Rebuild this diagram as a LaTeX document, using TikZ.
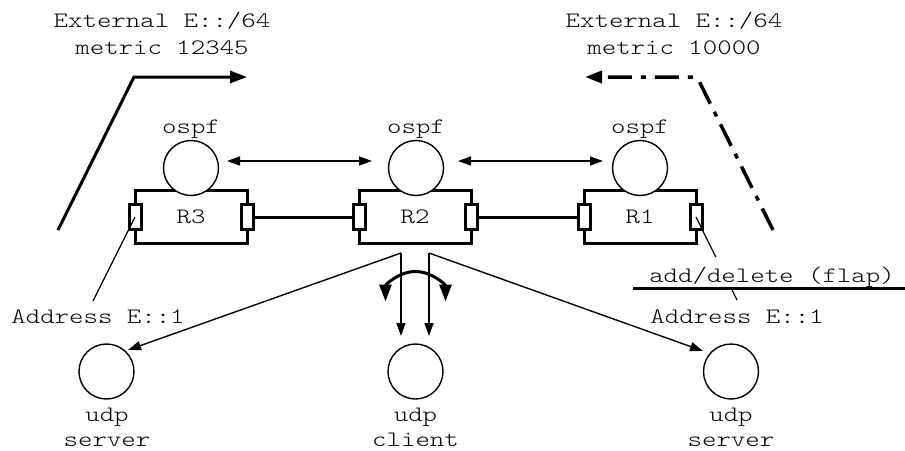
\documentclass[tikz,border=0pt]{standalone}
\usepackage{fontspec}
\newfontfamily\labelfont[FakeStretch=1.25]{Latin Modern Mono Light}
\usetikzlibrary{arrows.meta,calc}

\begin{document}
\begin{tikzpicture}[x=1pt,y=-1pt,
  txt/.style={font=\labelfont\fontsize{22}{27}\selectfont, inner sep=0pt, align=center},
  router/.style={draw, line width=3pt, minimum width=112pt, minimum height=53pt,
                 inner sep=0pt, outer sep=0pt, font=\labelfont\fontsize{22}{27}\selectfont},
  port/.style={draw, fill=white, line width=3pt, minimum width=12pt,
               minimum height=25pt, inner sep=0pt},
  proc/.style={draw, circle, fill=white, line width=1.4pt, minimum size=55pt, inner sep=0pt},
  link/.style={line width=3pt},
  leader/.style={line width=1.2pt},
  msg/.style={line width=1.4pt, -{Triangle[length=13pt,width=9pt]}},
  twoway/.style={line width=1.4pt, {Triangle[length=13pt,width=9pt]}-{Triangle[length=13pt,width=9pt]}},
  bigarrow/.style={line width=3pt, -{Triangle[length=17pt,width=12pt]}},
  bigtwo/.style={line width=3pt, {Triangle[length=17pt,width=12pt]}-{Triangle[length=17pt,width=12pt]}},
  withdraw/.style={line width=3.5pt, rounded corners=4pt, dash pattern=on 24pt off 9pt on 5pt off 9pt,
                   -{Triangle[length=17pt,width=12pt]}}
]
\useasboundingbox (0,0) rectangle (905,450);

% routers
\node[router] (R3) at (191,217) {R3};
\node[router] (R2) at (415,217) {R2};
\node[router] (R1) at (640,217) {R1};

% ospf processes sitting on the routers
\node[proc] (O3) at (191,168) {};
\node[proc] (O2) at (416,168) {};
\node[proc] (O1) at (640,168) {};
\node[txt, anchor=base] (O3l) at (191,133) {ospf};
\node[txt, anchor=base] (O2l) at (416,133) {ospf};
\node[txt, anchor=base] (O1l) at (640,133) {ospf};

% interfaces
\node[port] (R3w) at (R3.west) {};
\node[port] (R3e) at (R3.east) {};
\node[port] (R2w) at (R2.west) {};
\node[port] (R2e) at (R2.east) {};
\node[port] (R1w) at (R1.west) {};
\node[port] (R1e) at (R1.east) {};

% links
\draw[link] (R3e) -- (R2w);
\draw[link] (R2e) -- (R1w);

% ospf adjacencies
\draw[twoway] ($(O3.center)+(36,-7)$) -- ($(O2.center)+(-44,-7)$);
\draw[twoway] ($(O2.center)+(42,-7)$) -- ($(O1.center)+(-37,-7)$);

% external route announcements (base = last line)
\node[txt, anchor=base] (extL) at (162,54) {External E::/64\\metric 12345};
\node[txt, anchor=base] (extR) at (674,54) {External E::/64\\metric 10000};
\coordinate (aL0) at (58,230);
\coordinate (aL1) at (134,77);
\coordinate (aL2) at (247,77);
\draw[bigarrow] (aL0) -- (aL1) -- (aL2);
\coordinate (aR0) at (773,230);
\coordinate (aR1) at (697,77);
\coordinate (aR2) at (585,77);
\draw[withdraw] (aR0) -- (aR1) -- (aR2);

% addresses
\node[txt, anchor=base] (addrL) at (98,323) {Address E::1};
\node[txt, anchor=base] (addrR) at (737,323) {Address E::1};
\draw[leader] (R3w.center) -- ($(addrL.base)+(-5,-22)$);
\draw[leader] (R1e.center) -- ($(addrR.base)+(0,-23)$);
\node[txt, anchor=base, fill=white, text height=25pt, text depth=6pt, inner xsep=2pt]
  (flap) at (772,282) {add/delete (flap)};
\coordinate (flapA) at (633,288);
\coordinate (flapB) at (905,288);
\draw[link] (flapA) -- (flapB);

% udp applications
\node[proc] (U1) at (106.5,371.5) {};
\node[proc] (U2) at (415.5,371.5) {};
\node[proc] (U3) at (731,371.5) {};
\node[txt, anchor=base, font=\labelfont\fontsize{22}{24.3}\selectfont] (U1l) at (107,446) {udp\\server};
\node[txt, anchor=base, font=\labelfont\fontsize{22}{24.3}\selectfont] (U2l) at (415.5,446) {udp\\client};
\node[txt, anchor=base, font=\labelfont\fontsize{22}{24.3}\selectfont] (U3l) at (731,446) {udp\\server};

\draw[msg] ($(R2.south)+(-14,9.5)$) -- ($(U1.center)+(21.5,-21.5)$);
\draw[msg] ($(R2.south)+(14,9.5)$) -- ($(U3.center)+(-28,-20.5)$);
\draw[msg] ($(R2.south)+(-14,9.5)$) -- ($(U2.center)+(-14.5,-35.5)$);
\draw[msg] ($(R2.south)+(14,9.5)$) -- ($(U2.center)+(13.5,-35.5)$);
\draw[bigtwo] ($(U2.center)+(-30,-70)$) arc[start angle=180, end angle=0, radius=30pt];
\end{tikzpicture}
\end{document}
